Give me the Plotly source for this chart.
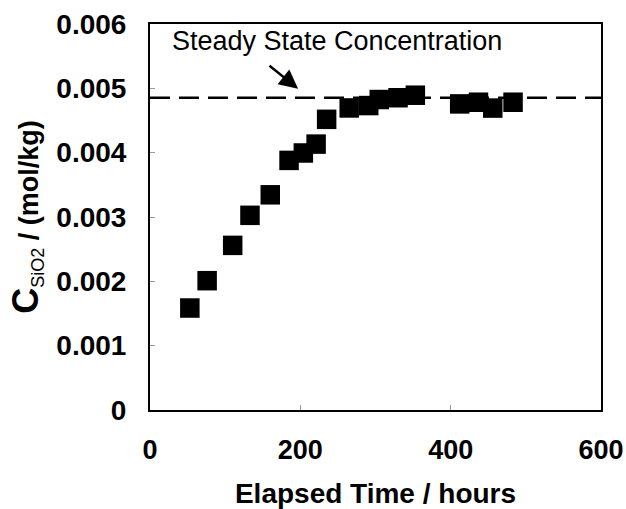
import plotly.graph_objects as go

# Data
elapsed_hours = [53, 76, 110, 133, 160, 185, 204, 221, 235, 265, 291, 305, 330, 353, 412, 437, 456, 483]
conc_sio2 = [0.001585, 0.00201, 0.002559, 0.003026, 0.003345, 0.00388, 0.003995, 0.004133, 0.004518,
             0.004695, 0.004732, 0.004826, 0.004854, 0.004893, 0.004758, 0.004784, 0.004693, 0.004784]
steady_state = 0.004855
x_ticks = [0, 200, 400, 600]
y_ticks = [0, 0.001, 0.002, 0.003, 0.004, 0.005, 0.006]
y_tick_labels = ["0", "0.001", "0.002", "0.003", "0.004", "0.005", "0.006"]

FONT = "Liberation Sans, Arial, sans-serif"

fig = go.Figure()

fig.add_trace(go.Scatter(
    x=[0, 600], y=[steady_state, steady_state], mode="lines",
    line=dict(color="black", width=2.5, dash="20px,9px"),
    hoverinfo="skip", showlegend=False,
))

fig.add_trace(go.Scatter(
    x=elapsed_hours, y=conc_sio2, mode="markers",
    marker=dict(symbol="square", size=19.5, color="black", line=dict(width=0)),
    showlegend=False,
))

fig.add_annotation(
    x=26, y=0.00573, xref="x", yref="y",
    text="Steady State Concentration", showarrow=False,
    xanchor="left", yanchor="middle",
    font=dict(family=FONT, size=27, color="black"),
)
fig.add_annotation(
    x=197, y=0.004995, xref="x", yref="y",
    ax=157, ay=0.00537, axref="x", ayref="y",
    text="", showarrow=True, arrowhead=2, arrowsize=1.5, arrowwidth=2.5,
    arrowcolor="black",
)

fig.update_layout(
    width=626, height=509,
    margin=dict(l=150, r=25, t=24, b=99),
    paper_bgcolor="white", plot_bgcolor="white",
    font=dict(family=FONT, color="black"),
    xaxis=dict(
        range=[0, 600], tickvals=x_ticks, ticktext=[str(v) for v in x_ticks],
        showgrid=False, zeroline=False, automargin=False,
        showline=True, linecolor="black", linewidth=2, mirror=True,
        ticks="inside", ticklen=5, tickcolor="#999", tickwidth=1,
        tickfont=dict(family=FONT, size=27, color="black", weight="bold"),
        ticklabelstandoff=15,
        title=dict(text="<b>Elapsed Time / hours</b>",
                   font=dict(family=FONT, size=28, color="black"), standoff=22),
    ),
    yaxis=dict(
        range=[0, 0.006], tickvals=y_ticks, ticktext=y_tick_labels,
        showgrid=False, zeroline=False, automargin=False,
        showline=True, linecolor="black", linewidth=2, mirror=True,
        ticks="inside", ticklen=5, tickcolor="#999", tickwidth=1,
        tickfont=dict(family=FONT, size=28, color="black", weight="bold"),
        ticklabelstandoff=16,
        title=dict(text="<b><span style='font-size:36px'>C</span></b><sub><span style='font-size:18px'>SiO2</span></sub><b> / (mol/kg)</b>",
                   font=dict(family=FONT, size=27, color="black"), standoff=10),
    ),
)

fig.write_html(
    "out.html",
    config={"displayModeBar": False},
    post_script="document.body.style.margin='0';document.documentElement.style.overflow='hidden';",
)
